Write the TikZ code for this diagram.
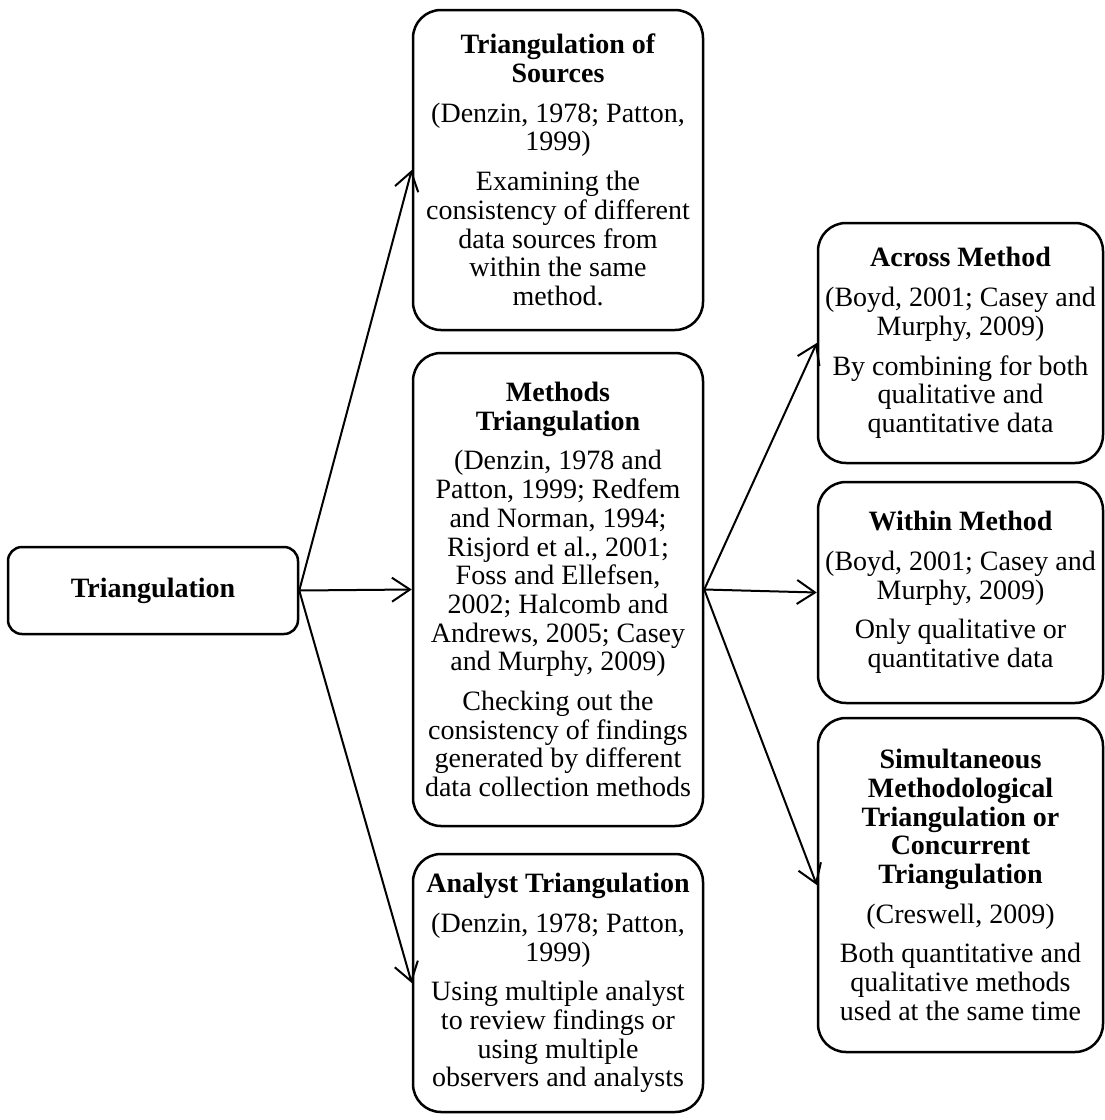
\documentclass[tikz,border=0pt]{standalone}
\usepackage{fontspec}
\setmainfont{Liberation Serif}
\usetikzlibrary{arrows.meta}
\begin{document}
\begin{tikzpicture}[x=1pt,y=-1pt,
  box/.style={draw, line width=2.5pt, rounded corners=28pt, align=center,
    inner sep=0pt, font=\fontsize{28}{28.7}\selectfont, minimum width=290pt},
  rbox/.style={box, minimum width=285pt},
  arr/.style={line width=2pt, -{Straight Barb[length=18pt,width=24pt,line width=2pt]}},
]
\path[use as bounding box] (0,0) rectangle (1105,1120);

% root
\node[box, rounded corners=14pt, minimum height=87pt] (trig) at (153,590.5)
  {\textbf{Triangulation}};

% middle column
\node[box, minimum height=320pt] (src) at (558,170)
  {\textbf{Triangulation of}\\ \textbf{Sources}\\[11pt]
   (Denzin, 1978; Patton,\\ 1999)\\[11pt]
   Examining the\\ consistency of different\\ data sources from\\ within the same\\ method.};

\node[box, minimum height=473pt] (meth) at (558,589.5)
  {\textbf{Methods}\\ \textbf{Triangulation}\\[11pt]
   (Denzin, 1978 and\\ Patton, 1999; Redfem\\ and Norman, 1994;\\ Risjord et al., 2001;\\
   Foss and Ellefsen,\\ 2002; Halcomb and\\ Andrews, 2005; Casey\\ and Murphy, 2009)\\[11pt]
   Checking out the\\ consistency of findings\\ generated by different\\ data collection methods};

\node[box, minimum height=258pt] (anal) at (558,983)
  {\textbf{Analyst Triangulation}\\[11pt]
   (Denzin, 1978; Patton,\\ 1999)\\[11pt]
   Using multiple analyst\\ to review findings or\\ using multiple\\ observers and analysts};

% right column
\node[rbox, minimum height=240pt] (across) at (960.5,343)
  {\textbf{Across Method}\\[11pt]
   (Boyd, 2001; Casey and\\ Murphy, 2009)\\[11pt]
   By combining for both\\ qualitative and\\ quantitative data};

\node[rbox, minimum height=221pt] (within) at (960.5,592.5)
  {\textbf{Within Method}\\[11pt]
   (Boyd, 2001; Casey and\\ Murphy, 2009)\\[11pt]
   Only qualitative or\\ quantitative data};

\node[rbox, minimum height=334pt] (simul) at (960.5,885)
  {\textbf{Simultaneous}\\ \textbf{Methodological}\\ \textbf{Triangulation or}\\
   \textbf{Concurrent}\\ \textbf{Triangulation}\\[11pt]
   (Creswell, 2009)\\[11pt]
   Both quantitative and\\ qualitative methods\\ used at the same time};

% connectors
\draw[arr] (trig.east) -- (src.west);
\draw[arr] (trig.east) -- (meth.west);
\draw[arr] (trig.east) -- (anal.west);
\draw[arr] (meth.east) -- (across.west);
\draw[arr] (meth.east) -- (within.west);
\draw[arr] (meth.east) -- (simul.west);
\end{tikzpicture}
\end{document}
